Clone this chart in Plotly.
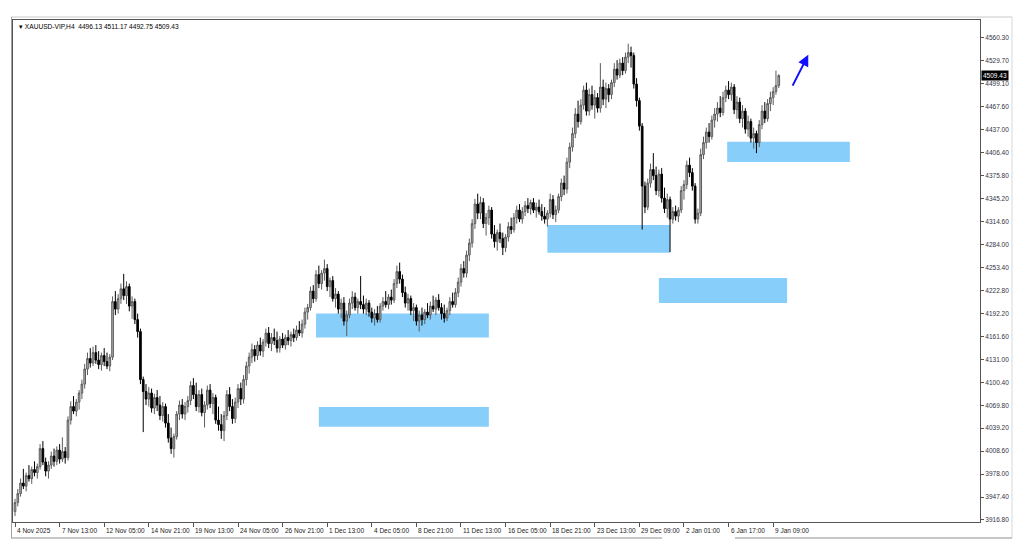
import plotly.graph_objects as go

# ---------------- data (H4 candles) ----------------
opens = [
    3928,3940,3952,3966,3962,3976,3972,3984,3980,3988,4012,3994,3982,3990,4002,3995,4010,3998,4008,4000,
    4050,4068,4062,4074,4086,4098,4118,4132,4126,4140,4130,4124,4136,4128,4122,4134,
    4208,4198,4212,4225,4216,4228,4202,4208,4184,4168,
    4104,4088,4078,4086,4066,4080,4070,4056,4068,4046,4026,4012,
    4028,4058,4070,4058,4068,4076,4096,4084,
    4068,4084,4060,4070,4090,4072,4080,4050,4044,4036,4056,4084,
    4068,4052,4074,4092,4078,4104,4122,4134,4144,
    4136,4150,4142,4154,4166,4152,4160,4156,4146,4158,4150,4160,4156,4164,4160,4170,4166,
    4178,4194,4200,4222,4212,4244,4232,4246,4252,
    4228,4236,4212,4218,4198,4206,4182,4190,4206,4214,4200,4208,
    4204,4198,4206,4194,4186,4192,4184,4202,4208,4204,4214,4210,4232,4248,
    4238,4220,4206,4212,4196,4200,4182,4190,4184,4194,4190,4202,4198,4210,4200,4192,4186,4196,4208,4204,
    4220,4234,4252,4246,4270,4286,4312,4338,
    4326,4340,4312,4320,4330,4298,4288,4300,4292,4280,4294,4308,4304,4320,4330,4318,4328,4336,4332,4340,4330,4334,4328,4322,
    4318,4326,4344,4324,4330,4348,4366,4358,4394,
    4414,4432,4458,4448,4470,4490,4462,4484,4470,4480,4466,4494,4478,4492,4484,4500,4518,4510,4526,4516,4534,4540,4536,4498,4476,4442,
    4362,4334,4366,4384,4376,4356,4378,4346,4332,4344,4318,4328,4322,4330,4356,4364,4390,4380,4362,4318,4326,
    4404,4420,4434,4428,4450,4458,4466,4460,4480,4490,4484,4494,4464,4474,4452,4462,4438,4448,4426,4432,4420,4444,4462,4452,4472,4480,4488,4496.13,
]
highs = [
    3945,3958,3972,3985,3980,3990,3988,3995,3992,4018,4022,4000,3995,4008,4012,4015,4018,4027,4014,4055,
    4075,4082,4078,4090,4104,4125,4140,4146,4148,4150,4142,4140,4146,4140,4138,4215,
    4222,4218,4232,4245,4235,4232,4215,4212,4192,4172,
    4108,4098,4094,4092,4085,4090,4082,4074,4072,4058,4040,4032,
    4062,4076,4078,4074,4082,4102,4106,4100,
    4090,4092,4075,4096,4098,4086,4084,4068,4058,4062,4090,4094,
    4078,4080,4098,4100,4110,4128,4140,4152,4150,
    4155,4160,4158,4172,4174,4166,4172,4168,4162,4166,4164,4170,4168,4172,4176,4182,4184,
    4200,4205,4228,4230,4250,4256,4250,4264,4258,
    4240,4242,4226,4222,4212,4214,4196,4212,4222,4220,4212,4242,
    4216,4212,4210,4200,4198,4202,4206,4214,4222,4218,4224,4238,4256,4260,
    4244,4228,4218,4216,4206,4204,4196,4200,4198,4206,4208,4216,4214,4218,4206,4204,4200,4214,4220,4226,
    4240,4258,4262,4276,4292,4318,4345,4352,
    4348,4346,4326,4336,4334,4310,4304,4312,4300,4298,4314,4320,4326,4336,4338,4334,4342,4346,4344,4346,4340,4344,4338,4334,
    4330,4352,4350,4336,4352,4372,4376,4400,4420,
    4440,4466,4476,4478,4496,4500,4492,4496,4490,4486,4526,4504,4500,4498,4504,4526,4530,4532,4534,4540,4552,4548,4540,4506,4480,4446,
    4368,4372,4392,4406,4388,4384,4386,4360,4352,4348,4334,4336,4334,4362,4370,4396,4400,4386,4366,4332,4412,
    4428,4440,4446,4456,4466,4474,4482,4488,4496,4502,4500,4498,4482,4480,4470,4466,4456,4452,4440,4436,4450,4470,4474,4478,4488,4494,4516,4511.17,
]
lows = [
    3922,3935,3948,3958,3955,3968,3965,3975,3972,3984,3990,3975,3972,3985,3988,3990,3992,3994,3992,3996,
    4044,4058,4055,4064,4078,4092,4110,4120,4122,4125,4118,4116,4122,4118,4115,4130,
    4190,4192,4205,4210,4205,4195,4185,4178,4160,4098,
    4034,4070,4068,4060,4058,4062,4050,4048,4040,4020,4005,4000,
    4024,4050,4052,4050,4060,4070,4078,4062,
    4060,4055,4040,4064,4066,4058,4045,4036,4025,4022,4050,4062,
    4045,4046,4066,4070,4072,4096,4112,4126,4128,
    4130,4136,4134,4148,4146,4142,4150,4140,4140,4146,4144,4150,4148,4154,4156,4162,4160,
    4172,4184,4196,4206,4208,4226,4224,4236,4222,
    4214,4208,4200,4192,4186,4176,4162,4186,4198,4196,4192,4198,
    4192,4190,4188,4180,4176,4180,4180,4196,4200,4198,4204,4206,4226,4232,
    4214,4200,4196,4190,4182,4176,4168,4176,4178,4186,4184,4194,4190,4196,4184,4180,4182,4190,4200,4200,
    4214,4228,4240,4240,4262,4280,4305,4318,
    4318,4306,4296,4310,4292,4280,4276,4286,4270,4274,4288,4298,4300,4312,4314,4312,4322,4326,4324,4326,4320,4324,4316,4312,
    4308,4320,4318,4314,4326,4342,4350,4352,4386,
    4408,4426,4440,4444,4464,4456,4456,4464,4452,4460,4460,4470,4466,4474,4478,4494,4504,4506,4510,4512,4526,4520,4492,4468,4436,4304,
    4326,4330,4360,4370,4350,4348,4340,4326,4320,4274,4312,4316,4314,4326,4344,4358,4374,4356,4312,4312,4322,
    4398,4412,4420,4424,4440,4448,4454,4456,4474,4478,4476,4458,4452,4446,4440,4432,4428,4420,4412,4406,4414,4438,4446,4448,4462,4470,4484,4492.75,
]
closes = [
    3940,3952,3966,3962,3976,3972,3984,3980,3988,4012,3994,3982,3990,4002,3995,4010,3998,4008,4000,4050,
    4068,4062,4074,4086,4098,4118,4132,4126,4140,4130,4124,4136,4128,4122,4134,4208,
    4198,4212,4225,4216,4228,4202,4208,4184,4168,4104,
    4088,4078,4086,4066,4080,4070,4056,4068,4046,4026,4012,4028,
    4058,4070,4058,4068,4076,4096,4084,4068,
    4084,4060,4070,4090,4072,4080,4050,4044,4036,4056,4084,4068,
    4052,4074,4092,4078,4104,4122,4134,4144,4136,
    4150,4142,4154,4166,4152,4160,4156,4146,4158,4150,4160,4156,4164,4160,4170,4166,4178,
    4194,4200,4222,4212,4244,4232,4246,4252,4228,
    4236,4212,4218,4198,4206,4182,4190,4206,4214,4200,4208,4204,
    4198,4206,4194,4186,4192,4184,4202,4208,4204,4214,4210,4232,4248,4238,
    4220,4206,4212,4196,4200,4182,4190,4184,4194,4190,4202,4198,4210,4200,4192,4186,4196,4208,4204,4220,
    4234,4252,4246,4270,4286,4312,4338,4326,
    4340,4312,4320,4330,4298,4288,4300,4292,4280,4294,4308,4304,4320,4330,4318,4328,4336,4332,4340,4330,4334,4328,4322,4318,
    4326,4344,4324,4330,4348,4366,4358,4394,4414,
    4432,4458,4448,4470,4490,4462,4484,4470,4480,4466,4494,4478,4492,4484,4500,4518,4510,4526,4516,4534,4540,4536,4498,4476,4442,4362,
    4334,4366,4384,4376,4356,4378,4346,4332,4344,4318,4328,4322,4330,4356,4364,4390,4380,4362,4318,4326,4404,
    4420,4434,4428,4450,4458,4466,4460,4480,4490,4484,4494,4464,4474,4452,4462,4438,4448,4426,4432,4420,4444,4462,4452,4472,4480,4488,4496,4509.43,
]
bar_index = list(range(len(closes)))

x_tick_bars = [0, 16, 32, 48, 64, 80, 96, 112, 128, 144, 160, 176, 192, 208, 224, 240, 256, 272]
x_tick_labels = ["4 Nov 2025", "7 Nov 13:00", "12 Nov 05:00", "14 Nov 21:00", "19 Nov 13:00",
                 "24 Nov 05:00", "26 Nov 21:00", "1 Dec 13:00", "4 Dec 05:00", "8 Dec 21:00",
                 "11 Dec 13:00", "16 Dec 05:00", "18 Dec 21:00", "23 Dec 13:00", "29 Dec 09:00",
                 "2 Jan 01:00", "6 Jan 17:00", "9 Jan 09:00"]
y_tick_labels = ["3916.80", "3947.40", "3978.00", "4008.60", "4039.20", "4069.80", "4100.40",
                 "4131.00", "4161.60", "4192.20", "4222.80", "4253.40", "4284.00", "4314.60",
                 "4345.20", "4375.80", "4406.40", "4437.00", "4467.60", "4499.10", "4529.70", "4560.30"]

# zones: (bar start, bar end, price low, price high)
zone_bar0 = [108, 109, 191, 231, 255.5]
zone_bar1 = [170, 170, 235, 277, 299.5]
zone_lo = [4160.0, 4041.0, 4273.0, 4206.0, 4394.0]
zone_hi = [4192.0, 4067.5, 4310.0, 4239.5, 4421.0]

arrow_from = (278.7, 4494.0)
arrow_to = (284.6, 4537.0)

symbol_text = "XAUUSD-VIP,H4  4496.13 4511.17 4492.75 4509.43"
last_price = closes[-1]

# ---------------- figure ----------------
W, H = 1024, 559
ML, MR, MT, MB = 13, 44, 20, 37
PW, PH = W - ML - MR, H - MT - MB


def px(xp):
    return (xp - ML) / PW


def py(yp):
    return (H - MB - yp) / PH


FONT = "Liberation Sans, Arial, sans-serif"

fig = go.Figure(go.Candlestick(
    x=bar_index, open=opens, high=highs, low=lows, close=closes,
    increasing=dict(fillcolor="#b4b4b4", line=dict(color="#5c5c5c", width=1)),
    decreasing=dict(fillcolor="#000000", line=dict(color="#000000", width=1)),
    whiskerwidth=0, hoverinfo="skip", showlegend=False,
))

shapes = []
for b0, b1, lo, hi in zip(zone_bar0, zone_bar1, zone_lo, zone_hi):
    shapes.append(dict(type="rect", xref="x", yref="y", x0=b0, x1=b1, y0=lo, y1=hi,
                       fillcolor="#87cefa", line=dict(width=0), layer="below"))
# outer window frame
shapes.append(dict(type="line", xref="paper", yref="paper", x0=px(11), x1=px(1012), y0=py(17), y1=py(17),
                   line=dict(color="#c8c8c8", width=1)))
shapes.append(dict(type="line", xref="paper", yref="paper", x0=px(11.5), x1=px(11.5), y0=py(17), y1=py(538),
                   line=dict(color="#a0a0a0", width=1)))
shapes.append(dict(type="line", xref="paper", yref="paper", x0=px(1012), x1=px(1012), y0=py(17), y1=py(538),
                   line=dict(color="#d8d8d8", width=1)))
shapes.append(dict(type="line", xref="paper", yref="paper", x0=px(11), x1=px(662), y0=py(538), y1=py(538),
                   line=dict(color="#909090", width=1)))
shapes.append(dict(type="line", xref="paper", yref="paper", x0=px(735), x1=px(1012), y0=py(538), y1=py(538),
                   line=dict(color="#909090", width=1)))

annotations = []
for b, t in zip(x_tick_bars, x_tick_labels):
    annotations.append(dict(x=b, y=0, xref="x", yref="paper", text=t, showarrow=False,
                            xanchor="left", yanchor="top", xshift=0, yshift=-3,
                            font=dict(family=FONT, size=6.5, color="#222222")))
annotations.append(dict(x=px(17), y=py(27), xref="paper", yref="paper", text="\u25be " + symbol_text,
                        showarrow=False, xanchor="left", yanchor="middle",
                        font=dict(family=FONT, size=6.6, color="#000000")))
annotations.append(dict(x=1, y=last_price, xref="paper", yref="y", text="%.2f" % last_price,
                        showarrow=False, xanchor="left", yanchor="middle", xshift=1,
                        bgcolor="#000000", borderpad=1,
                        font=dict(family=FONT, size=6.5, color="#ffffff")))
annotations.append(dict(x=arrow_to[0], y=arrow_to[1], ax=arrow_from[0], ay=arrow_from[1],
                        xref="x", yref="y", axref="x", ayref="y", text="", showarrow=True,
                        arrowhead=2, arrowsize=1.1, arrowwidth=2, arrowcolor="#1010ff"))

fig.update_layout(
    width=W, height=H,
    margin=dict(l=ML, r=MR, t=MT, b=MB, pad=0),
    paper_bgcolor="#ffffff", plot_bgcolor="#ffffff",
    shapes=shapes, annotations=annotations,
    boxgap=0.15,
    xaxis=dict(range=[-0.72, 346.2], rangeslider=dict(visible=False), showgrid=False, zeroline=False,
               tickmode="array", tickvals=x_tick_bars, showticklabels=False,
               ticks="outside", ticklen=4, tickcolor="#555555",
               showline=True, mirror=True, linecolor="#555555", linewidth=1, fixedrange=True),
    yaxis=dict(range=[3914.1, 4583.5], side="right", showgrid=False, zeroline=False,
               tickmode="array", tickvals=[float(v) for v in y_tick_labels], ticktext=y_tick_labels,
               ticks="outside", ticklen=3, tickcolor="#555555",
               tickfont=dict(family=FONT, size=6.5, color="#333344"),
               showline=True, mirror=True, linecolor="#555555", linewidth=1, fixedrange=True),
    hovermode=False,
)

fig.write_html("out.html", config={"displayModeBar": False, "staticPlot": True},
               post_script="document.body.style.margin='0';")
